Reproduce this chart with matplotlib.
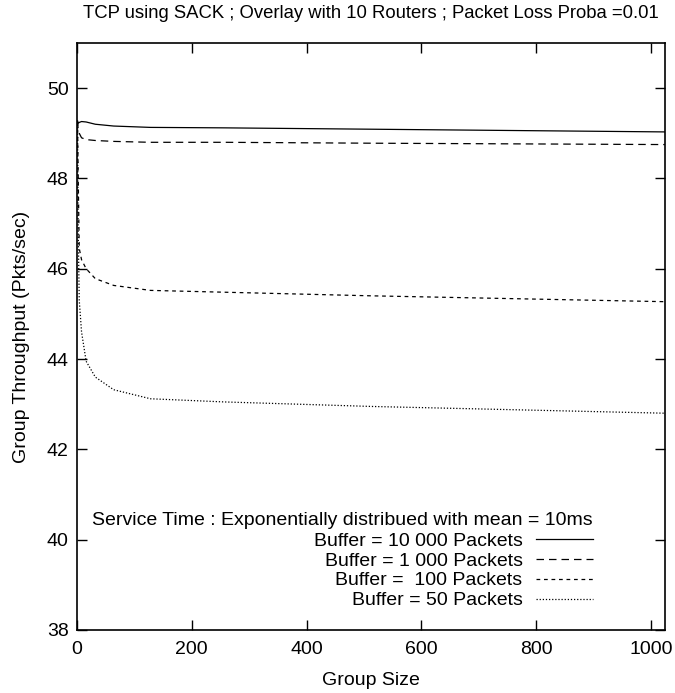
import numpy as np
import matplotlib
matplotlib.use("Agg")
import matplotlib.pyplot as plt

plt.rcParams['font.family'] = ['Liberation Sans', 'DejaVu Sans']

# group sizes (powers of two)
group_size = [1, 2, 4, 8, 16, 32, 64, 128, 256, 512, 1024]

# throughput per buffer size (Pkts/sec)
buf_10000 = [49.27, 49.22, 49.24, 49.26, 49.25, 49.20, 49.16, 49.13, 49.12, 49.09, 49.03]
buf_1000 = [49.28, 49.10, 49.00, 48.90, 48.86, 48.84, 48.82, 48.80, 48.80, 48.78, 48.75]
buf_100 = [49.25, 48.20, 46.45, 46.20, 46.00, 45.78, 45.63, 45.52, 45.48, 45.40, 45.27]
buf_50 = [49.20, 47.00, 45.30, 44.60, 43.95, 43.60, 43.32, 43.12, 43.05, 42.95, 42.80]

labels = ["Buffer = 10 000 Packets", "Buffer = 1 000 Packets",
          "Buffer =  100 Packets", "Buffer = 50 Packets"]

fs = 14

fig = plt.figure(figsize=(6.75, 6.93), dpi=100)
ax = fig.add_axes([0.114, 0.091, 0.871, 0.847])

ax.plot(group_size, buf_10000, color='black', lw=0.9, ls='-', label=labels[0])
ax.plot(group_size, buf_1000, color='black', lw=0.9, ls=(0, (6, 4)), label=labels[1])
ax.plot(group_size, buf_100, color='black', lw=0.9, ls=(0, (3, 3)), label=labels[2])
ax.plot(group_size, buf_50, color='black', lw=0.9, ls=(0, (1, 1.5)), label=labels[3])

ax.set_xlim(0, 1024)
ax.set_ylim(38, 51)
ax.set_xticks(range(0, 1001, 200))
ax.set_yticks(range(38, 51, 2))
ax.tick_params(direction='in', length=7, width=1, top=True, right=True,
               labelsize=fs, pad=6)
ax.tick_params(axis='x', pad=8)
for s in ax.spines.values():
    s.set_linewidth(1.2)

ax.set_xlabel("Group Size", fontsize=fs, labelpad=10)
ax.set_ylabel("Group Throughput (Pkts/sec)", fontsize=fs, labelpad=12)
ax.set_title("TCP using SACK ; Overlay with 10 Routers ; Packet Loss Proba =0.01",
             fontsize=13.3, pad=18)

leg = ax.legend(loc='lower right', bbox_to_anchor=(0.877, 0.035), frameon=False,
                markerfirst=False, fontsize=fs, title_fontsize=fs,
                title="Service Time : Exponentially distribued with mean = 10ms",
                alignment='right', handlelength=2.9, handletextpad=0.7,
                labelspacing=0.12, borderpad=0, borderaxespad=0)
leg._legend_box.sep = 2

fig.savefig("out.png", dpi=100)
